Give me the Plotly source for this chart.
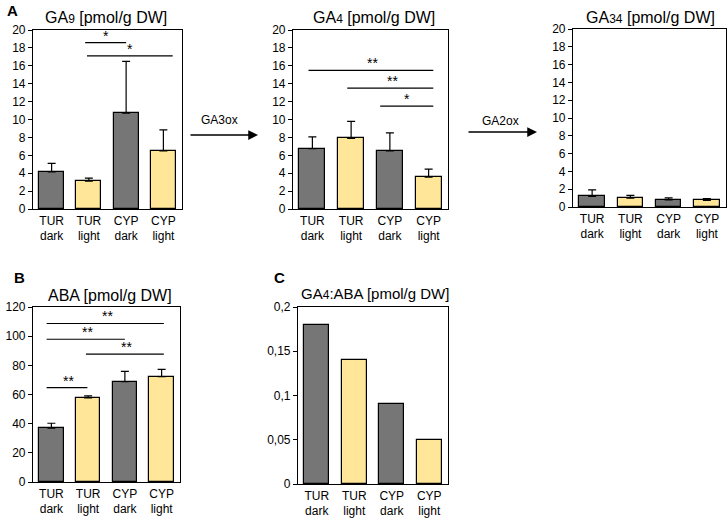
import plotly.graph_objects as go

# ---------------- data ----------------
categories = ["TUR<br>dark", "TUR<br>light", "CYP<br>dark", "CYP<br>light"]
bar_colors = ["#767676", "#FFE699", "#767676", "#FFE699"]

ga9_values = [4.15, 3.1, 10.7, 6.5]
ga9_err = [0.95, 0.35, 5.8, 2.35]

ga4_values = [6.75, 7.9, 6.5, 3.55]
ga4_err = [1.3, 1.9, 2.0, 0.9]

ga34_values = [1.2, 1.0, 0.8, 0.75]
ga34_err = [0.72, 0.3, 0.22, 0.2]

aba_values = [36.9, 57.7, 68.8, 72.2]
aba_err = [3.4, 1.3, 7.0, 5.0]

ratio_values = [0.18, 0.14, 0.09, 0.05]

# significance brackets: (x0, x1, y, label)
ga9_sig = [(0.9, 2.0, 18.6, "*"), (0.95, 3.25, 17.1, "*")]
ga4_sig = [(-0.1, 3.12, 15.5, "**"), (0.9, 3.12, 13.5, "**"), (1.75, 3.12, 11.5, "*")]
aba_sig = [(-0.13, 3.06, 108.7, "**"), (-0.13, 2.0, 97.9, "**"),
           (0.94, 3.06, 87.7, "**"), (-0.13, 0.98, 64.7, "**")]

FONT = "Liberation Sans, Arial, Helvetica, sans-serif"
W, H = 728, 522

fig = go.Figure()

# panel pixel boxes (x0, x1, ytop, ybottom)
panels = [
    dict(name="ga9", box=(33, 182, 30, 209), vals=ga9_values, err=ga9_err, yr=20, dtick=2, sig=ga9_sig),
    dict(name="ga4", box=(293, 448, 30, 209), vals=ga4_values, err=ga4_err, yr=20, dtick=2, sig=ga4_sig),
    dict(name="ga34", box=(573, 726, 29, 207), vals=ga34_values, err=ga34_err, yr=20, dtick=2, sig=[]),
    dict(name="aba", box=(33, 180, 307, 482), vals=aba_values, err=aba_err, yr=120, dtick=20, sig=aba_sig),
    dict(name="ratio", box=(298, 448, 307, 484), vals=ratio_values, err=None, yr=0.2, dtick=0.05, sig=[]),
]

xpos = list(range(len(categories)))
annotations = []
shapes = []

for i, p in enumerate(panels):
    n = "" if i == 0 else str(i + 1)
    x0, x1, yt, yb = p["box"]
    xd = [x0 / W, x1 / W]
    yd = [1 - yb / H, 1 - yt / H]
    tr = dict(
        x=xpos, y=p["vals"], width=0.67,
        marker=dict(color=bar_colors, line=dict(color="black", width=1.2)),
        xaxis="x" + n, yaxis="y" + n, showlegend=False, hoverinfo="skip",
    )
    if p["err"] is not None:
        tr["error_y"] = dict(type="data", array=p["err"], arrayminus=[0] * 4,
                             symmetric=False, color="black", thickness=1.2, width=4)
    fig.add_trace(go.Bar(**tr))

    xa = dict(domain=xd, anchor="y" + n, range=[-0.5, 3.5], tickvals=xpos,
              ticktext=categories, showline=True, linecolor="black", linewidth=1.2,
              mirror=True, ticks="", showgrid=False, zeroline=False, automargin=False,
              tickfont=dict(family=FONT, size=12, color="black"))
    if p["name"] == "ratio":
        yvals = [0, 0.05, 0.1, 0.15, 0.2]
        ytext = ["0", "0,05", "0,1", "0,15", "0,2"]
    else:
        yvals = [k * p["dtick"] for k in range(int(round(p["yr"] / p["dtick"])) + 1)]
        ytext = [str(v) for v in yvals]
    ya = dict(domain=yd, anchor="x" + n, range=[0, p["yr"]], tickvals=yvals, ticktext=ytext,
              showline=True, linecolor="black", linewidth=1.2, mirror=True,
              ticks="outside", ticklen=4, tickwidth=1, tickcolor="black",
              showgrid=False, zeroline=False, automargin=False,
              tickfont=dict(family=FONT, size=12, color="black"))
    fig.layout["xaxis" + n] = xa
    fig.layout["yaxis" + n] = ya

    for (sx0, sx1, sy, lab) in p["sig"]:
        shapes.append(dict(type="line", xref="x" + n, yref="y" + n, x0=sx0, x1=sx1,
                           y0=sy, y1=sy, line=dict(color="black", width=1.2)))
        annotations.append(dict(xref="x" + n, yref="y" + n, x=(sx0 + sx1) / 2 + (0.05 if lab == "**" else 0), y=sy,
                                text=lab, showarrow=False, yanchor="bottom", yshift=-3,
                                font=dict(family=FONT, size=14, color="black")))

# titles
def paper_ann(px, py, text, size=16, bold=False, xanchor="center"):
    t = f"<b>{text}</b>" if bold else text
    annotations.append(dict(xref="paper", yref="paper", x=px / W, y=1 - py / H, text=t,
                            showarrow=False, xanchor=xanchor, yanchor="middle", align="center",
                            font=dict(family=FONT, size=size, color="black")))

sub = lambda s: f"<span style='font-size:12px'>{s}</span>"
paper_ann(106, 17, "GA" + sub("9") + " [pmol/g DW]")
paper_ann(374, 17, "GA" + sub("4") + " [pmol/g DW]")
paper_ann(650, 17, "GA" + sub("34") + " [pmol/g DW]")
paper_ann(110, 295, "ABA [pmol/g DW]")
paper_ann(375, 293, "GA" + sub("4") + ":ABA [pmol/g DW]", size=15)
paper_ann(5, 11, "A", size=15, bold=True, xanchor="left")
paper_ann(12, 277, "B", size=15, bold=True, xanchor="left")
paper_ann(272, 277, "C", size=15, bold=True, xanchor="left")
paper_ann(219, 120, "GA3ox", size=12)
paper_ann(500, 121, "GA2ox", size=12)

# arrows
for (ax0, ax1, ay) in [(189, 258, 135), (467, 537, 132)]:
    annotations.append(dict(xref="paper", yref="paper", axref="pixel", ayref="pixel",
                            x=ax1 / W, y=1 - ay / H, ax=-(ax1 - ax0), ay=0,
                            text="", showarrow=True, arrowhead=2, arrowsize=1.3,
                            arrowwidth=1.5, arrowcolor="black"))

fig.update_layout(width=W, height=H, margin=dict(l=0, r=0, t=0, b=0, autoexpand=False),
                  plot_bgcolor="white", paper_bgcolor="white",
                  annotations=annotations, shapes=shapes, bargap=0,
                  font=dict(family=FONT, color="black"))

fig.write_html("out.html", config={"displayModeBar": False},
               post_script="document.body.style.margin='0';document.body.style.overflow='hidden';")
